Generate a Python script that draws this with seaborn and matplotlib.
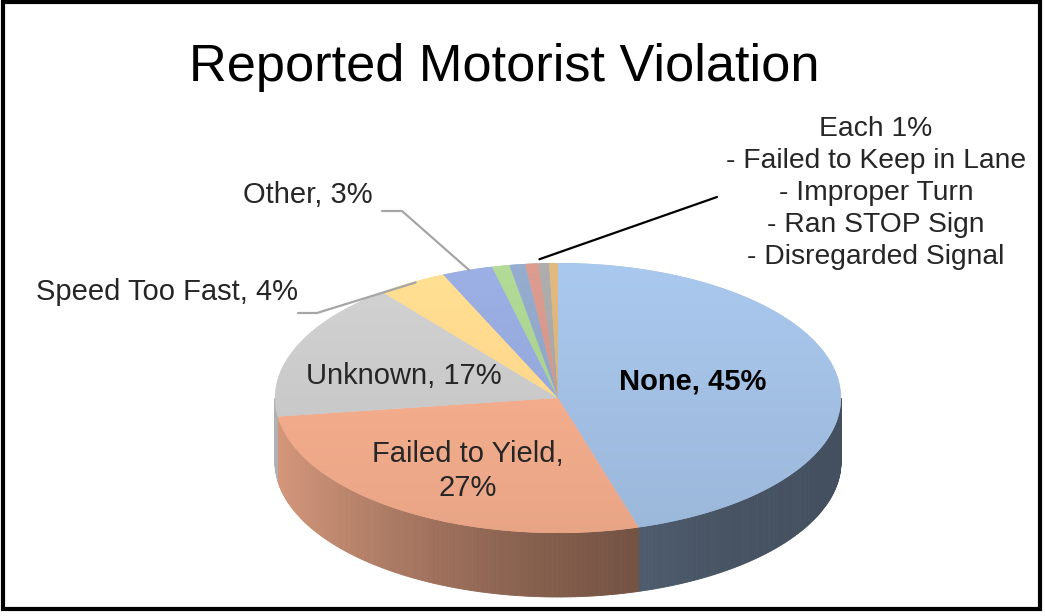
import numpy as np
import matplotlib
matplotlib.use("Agg")
import matplotlib.pyplot as plt
from matplotlib.patches import Polygon, Rectangle
import matplotlib.colors as mcolors
import seaborn as sns

# ---- data -----------------------------------------------------------------
categories = ["None", "Failed to Yield", "Unknown", "Speed Too Fast", "Other",
              "Failed to Keep in Lane", "Improper Turn", "Ran STOP Sign",
              "Disregarded Signal", "Unspecified"]
shares = [45.4, 27.4, 16.55, 4.0, 2.9, 1.0, 0.9, 0.75, 0.6, 0.5]
slice_colors = ["#A2BFE3", "#F2AC8C", "#C9C9C9", "#FBD68C", "#95A8DB",
                "#A9D190", "#8FA5C6", "#D3958A", "#A6A6A6", "#D8B27A"]
title = "Reported Motorist Violation"
minor_header = "Each 1%"
minor_items = categories[5:9]

# ---- style ----------------------------------------------------------------
sns.set_theme(style="white")
plt.rcParams["font.family"] = ["Liberation Sans", "DejaVu Sans"]
palette = sns.color_palette(slice_colors)

W, H = 1045, 616
fig = plt.figure(figsize=(W / 100, H / 100), dpi=100)
ax = fig.add_axes([0, 0, 1, 1])
ax.set_xlim(0, W)
ax.set_ylim(H, 0)
ax.axis("off")

# 3-D pie geometry (screen units, y grows downward)
cx, cy, a, b, depth = 558, 398, 283, 135, 64


def rim(theta_deg, dz=0.0, scale=1.0):
    t = np.radians(theta_deg)
    return cx + a * scale * np.sin(t), cy - b * scale * np.cos(t) + dz


total = float(sum(shares))
bounds = np.concatenate([[0], np.cumsum(shares)]) / total * 360.0


def shade(col, f):
    r, g, bb = mcolors.to_rgb(col)
    return (min(r * f, 1), min(g * f, 1), min(bb * f, 1))


# side walls: only the front half (90..270 deg clockwise from top) is visible
for i, col in enumerate(palette):
    t0, t1 = max(bounds[i], 90.0), min(bounds[i + 1], 270.0)
    if t1 <= t0:
        continue
    steps = np.linspace(t0, t1, max(int((t1 - t0) / 0.5), 2))
    for s0, s1 in zip(steps[:-1], steps[1:]):
        xm = np.sin(np.radians((s0 + s1) / 2))
        f = 0.42 + 0.46 * ((1 - xm) / 2) ** 2
        c = shade(col, f)
        x0, y0 = rim(s0)
        x1, y1 = rim(s1)
        ax.add_patch(Polygon([(x0, y0), (x1, y1), (x1, y1 + depth), (x0, y0 + depth)],
                             closed=True, facecolor=c, edgecolor=c, lw=0.6))

# top faces with a gentle top-to-bottom light gradient
for i, col in enumerate(palette):
    th = np.linspace(bounds[i], bounds[i + 1], max(int((bounds[i + 1] - bounds[i]) * 2), 3))
    xs, ys = rim(th)
    pts = [(cx, cy)] + list(zip(xs, ys))
    poly = Polygon(pts, closed=True, facecolor=col, edgecolor="none")
    ax.add_patch(poly)
    rows = np.linspace(1.05, 0.96, 200)
    img = np.array([[shade(col, f)] for f in rows])
    im = ax.imshow(img, extent=(cx - a, cx + a, cy + b, cy - b), origin="upper",
                   aspect="auto", interpolation="bilinear", zorder=2)
    im.set_clip_path(poly)

ax.set_xlim(0, W)
ax.set_ylim(H, 0)

# ---- labels ---------------------------------------------------------------
txt_col = "#262626"
fs = 21


def pct(v):
    return f"{int(round(v))}%"


mid = (bounds[:-1] + bounds[1:]) / 2

ax.text(504, 67, title, ha="center", va="center", fontsize=37.7, color="black")

ax.text(cx + 135, cy - 16, f"{categories[0]}, {pct(shares[0])}", ha="center",
        va="center", fontsize=fs, fontweight="bold", color="black", zorder=5)
ax.text(468, 471, f"{categories[1]},\n{pct(shares[1])}", ha="center", va="center",
        fontsize=fs, color=txt_col, linespacing=1.3, zorder=5)
ax.text(404, 376, f"{categories[2]}, {pct(shares[2])}", ha="center", va="center",
        fontsize=fs, color=txt_col, zorder=5)

# outside labels with leader lines
lead = "#A6A6A6"
sx, sy = rim(mid[3])
ax.plot([298, 317, sx + 4], [313, 313, sy], color=lead, lw=1.6, zorder=4)
ax.text(298, 292, f"{categories[3]}, {pct(shares[3])}", ha="right", va="center",
        fontsize=fs, color=txt_col)

ox, oy = rim(mid[4])
ax.plot([382, 402, ox + 2], [211, 211, oy], color=lead, lw=1.6, zorder=4)
ax.text(373, 195, f"{categories[4]}, {pct(shares[4])}", ha="right", va="center",
        fontsize=fs, color=txt_col)

gx, gy = rim((bounds[5] + bounds[9]) / 2 + 4, scale=1.03)
ax.plot([gx, 717], [gy, 197], color="black", lw=1.6, zorder=4)
note = "\n".join([minor_header] + [f"- {m}" for m in minor_items])
ax.text(876, 193, note, ha="center", va="center", fontsize=20.3, color=txt_col,
        linespacing=1.31)

# chart frame
ax.add_patch(Rectangle((2.5, 1.5), 1037, 607, fill=False, edgecolor="black", lw=3))

fig.savefig("out.png", dpi=100)
